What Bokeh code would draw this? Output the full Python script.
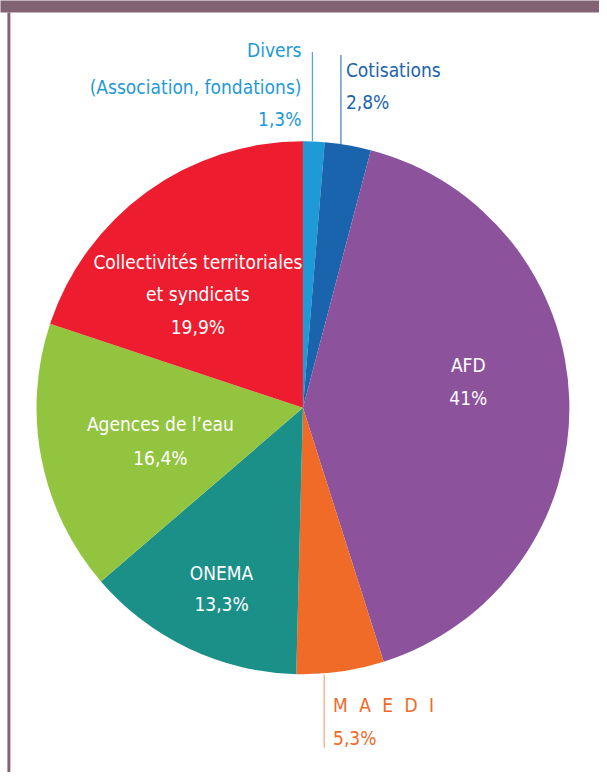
import math
from bokeh.plotting import figure
from bokeh.models import Range1d, ColumnDataSource
from bokeh.core.properties import value
from bokeh.embed import file_html
from bokeh.resources import INLINE

# ---- data ----
categories = ["Divers (Association, fondations)", "Cotisations", "AFD", "MAEDI",
              "ONEMA", "Agences de l\u2019eau", "Collectivités territoriales et syndicats"]
shares = [1.3, 2.8, 41.0, 5.3, 13.3, 16.4, 19.9]
pct_labels = ["1,3%", "2,8%", "41%", "5,3%", "13,3%", "16,4%", "19,9%"]
colors = ["#1E9AD6", "#1A63AD", "#8C529C", "#F06A28", "#1B9089", "#93C43F", "#ED1C2E"]

# ---- layout (reference pixel coordinates, 607 x 780) ----
W, H = 599, 772
REF_W, REF_H = 607, 780
FONT = "'DejaVu Sans Condensed', 'Liberation Sans Narrow', Roboto, sans-serif"
cx, cy_ref, R = 306.5, 411.5, 270


def Y(py):
    return REF_H - py


p = figure(width=W, height=H, output_backend="svg", toolbar_location=None,
           x_range=Range1d(0, REF_W), y_range=Range1d(0, REF_H),
           x_axis_location=None, y_axis_location=None, min_border=0,
           outline_line_color=None, background_fill_color="white")
p.grid.visible = False

# frame
p.quad(left=[-10], right=[620], bottom=[Y(12)], top=[Y(-10)], fill_color="#826374", line_color=None)
p.quad(left=[7], right=[10], bottom=[Y(800)], top=[Y(12)], fill_color="#826374", line_color=None)

# wedges: start at 12 o'clock, clockwise
total = sum(shares)
starts, ends = [], []
cum = 0.0
for s in shares:
    a0 = math.pi / 2 - 2 * math.pi * (cum + s) / total
    a1 = math.pi / 2 - 2 * math.pi * cum / total
    starts.append(a0)
    ends.append(a1)
    cum += s
src = ColumnDataSource(dict(x=[cx] * len(shares), y=[Y(cy_ref)] * len(shares),
                            start=starts, end=ends, color=colors))
p.wedge(x="x", y="y", radius=R, start_angle="start", end_angle="end",
        fill_color="color", line_color=None, source=src)

# leader lines
p.line(x=[316, 316], y=[Y(52), Y(142)], line_color="#1E9AD6", line_width=1)
p.line(x=[345, 345], y=[Y(55), Y(146)], line_color="#1A63AD", line_width=1)
p.line(x=[328, 328], y=[Y(681), Y(755)], line_color="#F8A47C", line_width=1.2)

FS = "19px"


def label(x, y, txt, color, align="center"):
    p.text(x=[x], y=[Y(y)], text=[txt], text_color=color, text_font=value(FONT),
           text_font_size=FS, text_align=align, text_baseline="middle")


# inside labels (white)
label(200, 264, "Collectivités territoriales", "white")
label(200, 297, "et syndicats", "white")
label(200, 330, pct_labels[6], "white")
label(162, 428, "Agences de l\u2019eau", "white")
label(162, 462, pct_labels[5], "white")
label(224, 578, "ONEMA", "white")
label(224, 610, pct_labels[4], "white")
label(474, 368, "AFD", "white")
label(474, 402, pct_labels[2], "white")

# outside labels
label(305, 50, "Divers", "#1E9AD6", "right")
label(305, 87, "(Association, fondations)", "#1E9AD6", "right")
label(305, 120, pct_labels[0], "#1E9AD6", "right")
label(350, 70, "Cotisations", "#1A63AD", "left")
label(350, 103, pct_labels[1], "#1A63AD", "left")
gap = "\u2002\u2006"
label(337, 712, gap.join("MAEDI"), "#F06A28", "left")
label(337, 745, pct_labels[3], "#F06A28", "left")

open("out.html", "w").write(file_html(p, INLINE))
